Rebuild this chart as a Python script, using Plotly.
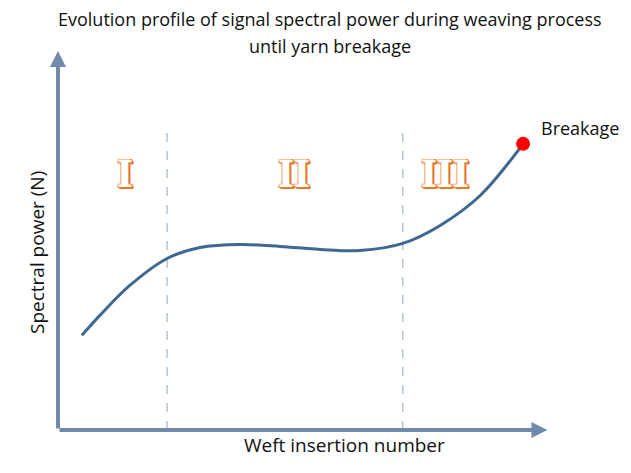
import plotly.graph_objects as go

# curve (schematic units 0-10)
weft = [0.49, 0.86, 1.48, 2.24, 2.92, 3.74, 4.56, 5.38, 6.20, 7.08, 7.84, 8.67, 9.55]
power = [2.51, 3.04, 3.84, 4.55, 4.84, 4.92, 4.87, 4.79, 4.76, 4.95, 5.42, 6.22, 7.59]
phase_bounds = [2.24, 7.08]
phase_top = 8.0
phase_labels = ["I", "II", "III"]
phase_x = [1.38, 4.85, 7.95]
phase_y = 6.8
break_x = [9.55]
break_y = [7.59]
title_lines = ["Evolution profile of signal spectral power during weaving process",
               "until yarn breakage"]

AXIS_COL = "#7189ab"
CURVE_COL = "#3e6892"
FONT = "Open Sans, Noto Sans, sans-serif"
ORANGE_EDGE = ("-1px -1px #f6c09a, 1px -1px #ed7d31, -1px 1px #ed7d31, 1px 1px #ed7d31, "
               "-1px 0 #f4b183, 1px 0 #ed7d31, 0 -1px #f4b183, 0 1px #ed7d31, "
               "2px 2px #e5701f, 2px 1px #e5701f, 1px 2px #e5701f")

fig = go.Figure()

for xb in phase_bounds:
    fig.add_trace(go.Scatter(x=[xb, xb], y=[0, phase_top], mode="lines",
                             line=dict(color="#8fa7c4", width=1, dash="dash"),
                             showlegend=False, hoverinfo="skip"))

fig.add_trace(go.Scatter(x=weft, y=power, mode="lines",
                         line=dict(color=CURVE_COL, width=3, shape="spline"),
                         showlegend=False, cliponaxis=False))

fig.add_trace(go.Scatter(x=break_x, y=break_y, mode="markers",
                         marker=dict(color="#ff0000", size=14),
                         showlegend=False, cliponaxis=False))
fig.add_annotation(x=9.88, y=8.01, text="Breakage", showarrow=False, xanchor="left",
                   font=dict(family=FONT, size=18, color="#111111"))

# axis arrows
fig.add_annotation(x=0, y=10.05, ax=0, ay=0, xref="x", yref="y", axref="x", ayref="y",
                   showarrow=True, arrowhead=2, arrowsize=0.8, arrowwidth=4,
                   arrowcolor=AXIS_COL, text="")
fig.add_annotation(x=10.05, y=0, ax=0, ay=0, xref="x", yref="y", axref="x", ayref="y",
                   showarrow=True, arrowhead=2, arrowsize=0.8, arrowwidth=4,
                   arrowcolor=AXIS_COL, text="")

# roman numerals with an outline look
for lab, px in zip(phase_labels, phase_x):
    fig.add_annotation(x=px, y=phase_y, text=lab, showarrow=False,
                       font=dict(family="DejaVu Serif Condensed", size=38, color="white",
                                 weight="bold", shadow=ORANGE_EDGE))

# two-line title
for line, ty in zip(title_lines, [1.128, 1.056]):
    fig.add_annotation(x=0.559, y=ty, xref="paper", yref="paper", text=line,
                       showarrow=False, font=dict(family=FONT, size=18, color="#111111"))

fig.add_annotation(x=0.589, y=-0.08, xref="paper", yref="paper", text="Weft insertion number",
                   showarrow=False, font=dict(family=FONT, size=19, color="#111111"))
fig.add_annotation(x=-0.074, y=0.472, xref="paper", yref="paper", text="Spectral power (N)",
                   textangle=-90, showarrow=False,
                   font=dict(family=FONT, size=19, color="#111111"))

fig.update_layout(
    width=631, height=473,
    margin=dict(l=50, r=94, t=45, b=51),
    plot_bgcolor="white", paper_bgcolor="white",
)
fig.update_xaxes(range=[0, 10], showgrid=False, zeroline=False, showticklabels=False, showline=False)
fig.update_yaxes(range=[0, 10], showgrid=False, zeroline=False, showticklabels=False, showline=False)

fig.write_html("out.html")
